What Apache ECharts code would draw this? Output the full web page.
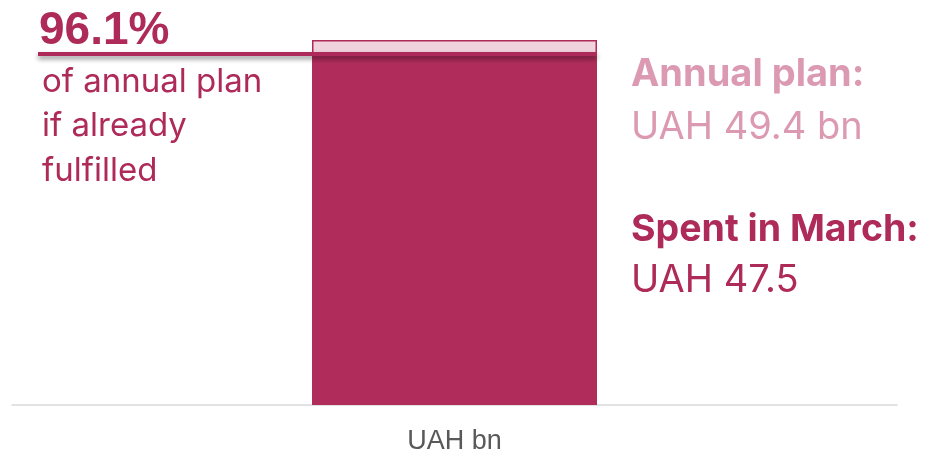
<!DOCTYPE html>
<html>
<head>
<meta charset="utf-8">
<script src="https://cdn.jsdelivr.net/npm/echarts@6/dist/echarts.min.js"></script>
<style>
  html, body {margin: 0; padding: 0; background: #fff;}
  #chart {width: 930px; height: 457px;}
</style>
</head>
<body>
<div id="chart"></div>
<script>
const categories = ['UAH bn']
const planValues = [49.4]
const spentValues = [47.5]
const shareLabel = '96.1%'
const leftNote = ['of annual plan', 'if already', 'fulfilled']
const planText = ['Annual plan:', 'UAH 49.4 bn']
const spentText = ['Spent in March:', 'UAH 47.5']

const dark = '#ae2b59'
const light = '#dc9ab2'
const font = 'Inter, "Noto Sans", sans-serif'
const barWidth = 285

const myChart = echarts.init(document.getElementById('chart'))

function textEl(text, x, y, size, weight, color, family) {
  return {
    type: 'text', x: x, y: y, z: 20,
    style: {
      text: text, fill: color, verticalAlign: 'middle',
      font: weight + ' ' + size + 'px ' + (family || font)
    }
  }
}

let option = {
  animation: false,
  grid: {left: 12, right: 33, top: 0, bottom: 52},
  xAxis: {
    type: 'category',
    data: categories,
    axisLine: {lineStyle: {color: '#d9d9d9', width: 1.5}},
    axisTick: {show: false},
    axisLabel: {color: '#595959', fontSize: 27, margin: 23, fontFamily: '"Liberation Sans", Arial, sans-serif'}
  },
  yAxis: {type: 'value', min: 0, max: 54.8, show: false, splitLine: {show: false}},
  series: [
    {
      name: 'Annual plan',
      type: 'bar',
      data: planValues,
      barWidth: barWidth,
      itemStyle: {color: '#f0d3dd', borderColor: dark, borderWidth: 1.5}
    },
    {
      name: 'Spent in March',
      type: 'bar',
      data: spentValues,
      barWidth: barWidth,
      barGap: '-100%',
      itemStyle: {color: '#b02d5b'}
    }
  ]
}
myChart.setOption(option)

// share line: from the left note to the right edge of the bar, at the spent level
const lineY = myChart.convertToPixel({yAxisIndex: 0}, spentValues[0])
const barRight = myChart.convertToPixel({xAxisIndex: 0}, categories[0]) + barWidth / 2

let graphic = [
  {
    type: 'line', z: 15,
    shape: {x1: 38, y1: lineY, x2: barRight, y2: lineY},
    style: {
      stroke: dark, lineWidth: 4,
      shadowBlur: 5, shadowOffsetY: 3, shadowColor: 'rgba(0,0,0,0.45)'
    }
  },
  textEl(shareLabel, 39, 31, 46, 'bold', dark, '"Liberation Sans", Arial, sans-serif')
]
leftNote.forEach((t, i) => graphic.push(textEl(t, 42, 82 + i * 44.5, 33, 'normal', dark)))
graphic.push(textEl(planText[0], 631, 75, 38, 'bold', light))
graphic.push(textEl(planText[1], 631, 128, 38, 'normal', light))
graphic.push(textEl(spentText[0], 631, 230, 37.5, 'bold', dark))
graphic.push(textEl(spentText[1], 631, 281, 38, 'normal', dark))

myChart.setOption({graphic: graphic})
</script>
</body>
</html>
